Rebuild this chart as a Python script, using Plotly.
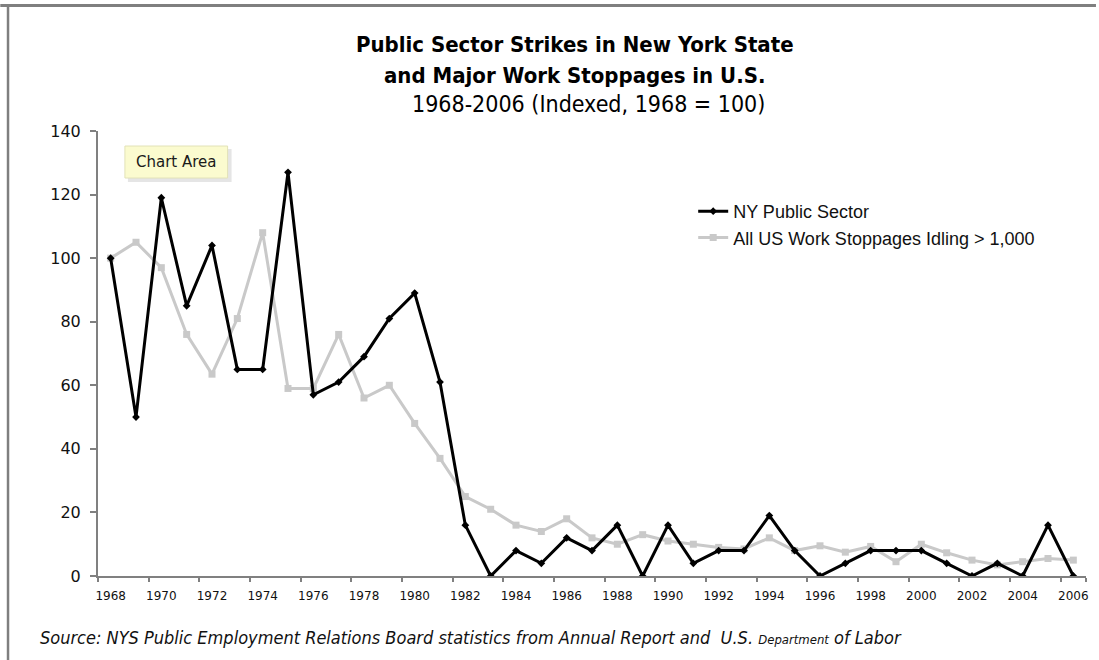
import plotly.graph_objects as go

years = list(range(1968, 2007))
ny_public = [100, 50, 119, 85, 104, 65, 65, 127, 57, 61,
             69, 81, 89, 61, 16, 0, 8, 4, 12, 8,
             16, 0, 16, 4, 8, 8, 19, 8, 0, 4,
             8, 8, 8, 4, 0, 4, 0, 16, 0]
us_stoppages = [100, 105, 97, 76, 63.5, 81, 108, 59, 59, 76,
                56, 60, 48, 37, 25, 21, 16, 14, 18, 12,
                10, 13, 11, 10, 9, 8.5, 12, 8, 9.5, 7.5,
                9.3, 4.5, 10, 7.3, 5, 3.5, 4.5, 5.5, 5]
y_ticks = [0, 20, 40, 60, 80, 100, 120, 140]
x_ticks = list(range(1968, 2007, 2))

W, H = 1099, 660
L, R, T, B = 98, 10, 131, 84

fig = go.Figure()
fig.add_trace(go.Scatter(
    x=years, y=us_stoppages, mode="lines+markers",
    name="All US Work Stoppages Idling > 1,000", legendrank=2,
    line=dict(color="#c9c9c9", width=3),
    marker=dict(symbol="square", size=7, color="#c9c9c9"),
))
fig.add_trace(go.Scatter(
    x=years, y=ny_public, mode="lines+markers",
    name="NY Public Sector", legendrank=1,
    line=dict(color="#000000", width=3),
    marker=dict(symbol="diamond", size=6, color="#000000"),
))

font_main = "Liberation Sans, Arial, Helvetica, sans-serif"
font_wide = "DejaVu Sans, Verdana, sans-serif"
font_title = "Liberation Sans Narrow, DejaVu Sans Condensed, Arial Narrow, sans-serif"


def px_x(x):
    return (x - L) / (W - L - R)


def px_y(y):
    return 1 - (y - T) / (H - T - B)


fig.update_layout(
    width=W, height=H,
    margin=dict(l=L, r=R, t=T, b=B, pad=0),
    paper_bgcolor="white", plot_bgcolor="white",
    showlegend=True,
    legend=dict(x=px_x(695), y=px_y(193),
                xanchor="left", yanchor="top",
                font=dict(family=font_main, size=18, color="#111"),
                bgcolor="rgba(0,0,0,0)", itemwidth=30, tracegroupgap=0),
    xaxis=dict(range=[1967.5, 2006.5], tickvals=x_ticks,
               ticktext=[str(v) for v in x_ticks],
               ticks="", showgrid=False, zeroline=False,
               showline=True, linecolor="#808080", linewidth=2,
               ticklabelstandoff=8,
               tickfont=dict(family=font_wide, size=12, color="#111"),
               minor=dict(tickvals=[v - 0.5 for v in x_ticks] + [2006.5],
                          ticks="outside", ticklen=4, tickcolor="#808080",
                          tickwidth=2, showgrid=False)),
    yaxis=dict(range=[0, 140], tickvals=y_ticks, ticks="outside",
               ticklen=6, tickwidth=2, tickcolor="#808080",
               showgrid=False, zeroline=False,
               showline=True, linecolor="#808080", linewidth=2,
               ticklabelstandoff=6,
               tickfont=dict(family=font_wide, size=16, color="#111")),
)

annotations = [
    dict(text="<b>Public Sector Strikes in New York State</b>", x=576, y=45,
         font=dict(family=font_title, size=22, color="#000")),
    dict(text="<b>and Major Work Stoppages in U.S.</b>", x=576, y=76,
         font=dict(family=font_title, size=22, color="#000")),
    dict(text="1968-2006 (Indexed, 1968 = 100)", x=590, y=104,
         font=dict(family=font_title, size=23, color="#000")),
]
for a in annotations:
    fig.add_annotation(text=a["text"], x=px_x(a["x"]), y=px_y(a["y"]),
                       xref="paper", yref="paper", showarrow=False,
                       xanchor="center", yanchor="middle", font=a["font"])

# source note
fig.add_annotation(
    text="<i>Source: NYS Public Employment Relations Board statistics from Annual Report and  U.S. "
         "<span style='font-size:13px'>Department</span> of Labor</i>",
    x=px_x(38), y=px_y(637), xref="paper", yref="paper", showarrow=False,
    xanchor="left", yanchor="middle",
    font=dict(family=font_title, size=18, color="#111"))

# "Chart Area" tooltip with soft shadow
fig.add_shape(type="rect", xref="paper", yref="paper",
              x0=px_x(128), x1=px_x(232), y0=px_y(149), y1=px_y(182),
              fillcolor="rgba(0,0,0,0.10)", line=dict(width=0), layer="above")
fig.add_shape(type="rect", xref="paper", yref="paper",
              x0=px_x(125), x1=px_x(228), y0=px_y(146), y1=px_y(178),
              fillcolor="#fbfbcf", line=dict(color="#e2e2b8", width=1), layer="above")
fig.add_annotation(text="Chart Area", x=px_x(176.5), y=px_y(162), xref="paper", yref="paper",
                   showarrow=False, xanchor="center", yanchor="middle",
                   font=dict(family=font_wide, size=15, color="#1a1a1a"))

# frame lines (top and left)
fig.add_shape(type="rect", xref="paper", yref="paper",
              x0=px_x(0), x1=px_x(W), y0=px_y(4), y1=px_y(7),
              fillcolor="#7f7f7f", line=dict(width=0), layer="above")
fig.add_shape(type="rect", xref="paper", yref="paper",
              x0=px_x(6.5), x1=px_x(9), y0=px_y(4), y1=px_y(H),
              fillcolor="#7f7f7f", line=dict(width=0), layer="above")

fig.write_html("out.html", config={"displayModeBar": False},
               post_script="document.body.style.margin='0';document.body.style.overflow='hidden';")
